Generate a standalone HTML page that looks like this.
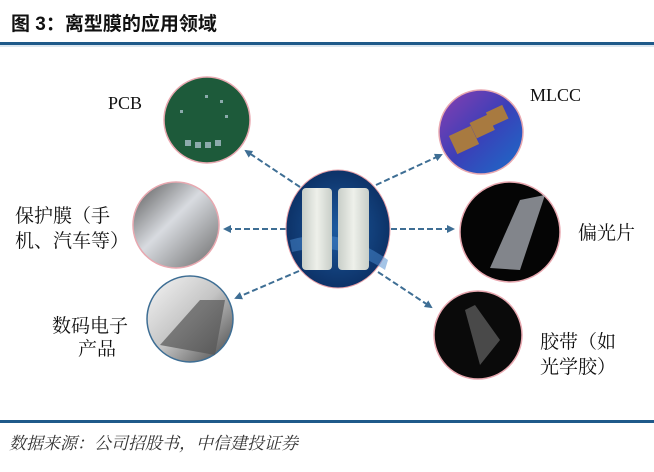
<!DOCTYPE html>
<html><head><meta charset="utf-8"><style>
html,body{margin:0;padding:0;background:#fff;}
body{width:654px;height:467px;overflow:hidden;position:relative;font-family:"Liberation Serif","Noto Serif CJK SC",serif;}
</style></head><body>
<svg width="654" height="467" viewBox="0 0 654 467" xmlns="http://www.w3.org/2000/svg">
<defs>
<marker id="ah" markerWidth="8" markerHeight="8" refX="6" refY="4" orient="auto" markerUnits="userSpaceOnUse"><path d="M0,0 L8,4 L0,8 Z" fill="#3e6e94"/></marker>
<radialGradient id="gc" cx="50%" cy="50%" r="60%"><stop offset="0" stop-color="#1c5aa0"/><stop offset="1" stop-color="#0a2a5c"/></radialGradient>
<linearGradient id="gm" x1="0" y1="0" x2="1" y2="1"><stop offset="0" stop-color="#8a3fb0"/><stop offset="0.5" stop-color="#3b3fb8"/><stop offset="1" stop-color="#1a6ec8"/></linearGradient>
<linearGradient id="gp" x1="0" y1="0" x2="1" y2="1"><stop offset="0" stop-color="#555"/><stop offset="0.45" stop-color="#d8dbe0"/><stop offset="1" stop-color="#6a6a6a"/></linearGradient>
<linearGradient id="gd" x1="0" y1="0" x2="1" y2="1"><stop offset="0" stop-color="#f6f6f6"/><stop offset="0.5" stop-color="#c4c4c4"/><stop offset="1" stop-color="#444"/></linearGradient>
<linearGradient id="gr" x1="0" y1="0" x2="1" y2="0"><stop offset="0" stop-color="#c8cec8"/><stop offset="0.5" stop-color="#eef0ea"/><stop offset="1" stop-color="#c8cec8"/></linearGradient>
</defs>
<text x="11" y="30" font-family="'Liberation Sans','Noto Sans CJK SC',sans-serif" font-size="19" font-weight="bold" fill="#111">图 3：离型膜的应用领域</text>
<rect x="0" y="42" width="654" height="3" fill="#1f5a8a"/>
<rect x="0" y="45.5" width="654" height="1" fill="#b8cfe0"/>
<rect x="0" y="420" width="654" height="3" fill="#1f5a8a"/>
<text x="9" y="449" font-family="'Liberation Serif','Noto Serif CJK SC',serif" font-size="17" font-style="italic" fill="#333">数据来源：公司招股书，中信建投证券</text>

<g stroke="#3e6e94" stroke-width="2" stroke-dasharray="6,3" fill="none" marker-end="url(#ah)">
<line x1="300" y1="187" x2="246" y2="151"/>
<line x1="286" y1="229" x2="225" y2="229"/>
<line x1="299" y1="271" x2="236" y2="298"/>
<line x1="376" y1="185" x2="441" y2="155"/>
<line x1="391" y1="229" x2="453" y2="229"/>
<line x1="378" y1="272" x2="431" y2="307"/>
</g>

<ellipse cx="338" cy="229" rx="52" ry="59" fill="url(#gc)" stroke="#e8a0a8" stroke-width="1"/>
<path d="M290,240 Q340,225 388,260 L385,270 Q340,240 292,252 Z" fill="#4a8ad0" opacity="0.5"/>
<rect x="302" y="188" width="30" height="82" rx="4" fill="url(#gr)"/>
<rect x="338" y="188" width="31" height="82" rx="4" fill="url(#gr)"/>

<circle cx="207" cy="120" r="43" fill="#1d5a3a" stroke="#e8a8b0" stroke-width="1.5"/>
<g fill="#bcd" opacity="0.7"><rect x="185" y="140" width="6" height="6"/><rect x="195" y="142" width="6" height="6"/><rect x="205" y="142" width="6" height="6"/><rect x="215" y="140" width="6" height="6"/><rect x="205" y="95" width="3" height="3"/><rect x="220" y="100" width="3" height="3"/><rect x="180" y="110" width="3" height="3"/><rect x="225" y="115" width="3" height="3"/></g>

<circle cx="481" cy="132" r="42" fill="url(#gm)" stroke="#e8a8b0" stroke-width="1.5"/>
<g fill="#a87a40"><rect x="452" y="130" width="24" height="20" transform="rotate(-25 464 140)"/><rect x="472" y="118" width="20" height="17" transform="rotate(-25 482 126)"/><rect x="488" y="108" width="18" height="15" transform="rotate(-25 497 115)"/></g>

<circle cx="176" cy="225" r="43" fill="url(#gp)" stroke="#e8a8b0" stroke-width="1.5"/>
<circle cx="190" cy="319" r="43" fill="url(#gd)" stroke="#3e6e94" stroke-width="1.5"/>
<path d="M160,345 L200,300 L225,300 L215,355 Z" fill="#555" opacity="0.7"/>

<circle cx="510" cy="232" r="50" fill="#050505" stroke="#e8a8b0" stroke-width="1.5"/>
<path d="M490,268 L520,200 L545,195 L520,270 Z" fill="#b8bcc4" opacity="0.7"/>
<circle cx="478" cy="335" r="44" fill="#0a0a0a" stroke="#e8a8b0" stroke-width="1.5"/>
<path d="M465,310 L480,365 L500,340 L475,305 Z" fill="#888" opacity="0.5"/>

<g font-family="'Liberation Serif','Noto Serif CJK SC',serif" fill="#111">
<text x="108" y="109" font-size="18">PCB</text>
<text x="530" y="101" font-size="18">MLCC</text>
<g font-size="19">
<text x="15" y="222">保护膜（手</text>
<text x="15" y="247">机、汽车等）</text>
<text x="52" y="332">数码电子</text>
<text x="78" y="355">产品</text>
<text x="578" y="239">偏光片</text>
<text x="540" y="348">胶带（如</text>
<text x="540" y="373">光学胶）</text>
</g></g>
</svg>
</body></html>
